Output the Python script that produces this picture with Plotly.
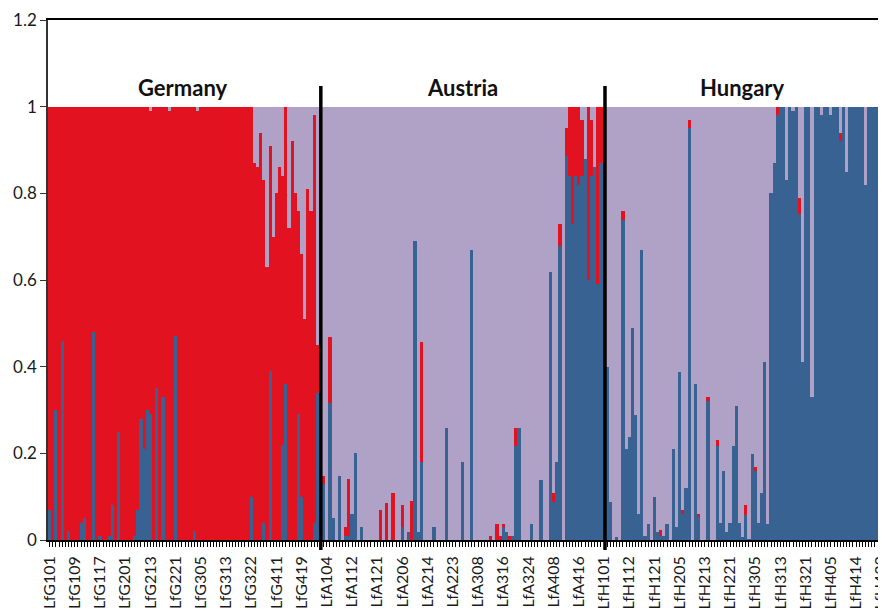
import plotly.graph_objects as go

# ---------------- data (STRUCTURE-like membership proportions) ----------------
germany_blue = [
    .07, 0, .30, 0, .46, 0, .02, 0, 0, 0,
    .04, .05, 0, 0, .48, 0, .01, 0, 0, .01,
    .08, 0, .25, 0, 0, 0, 0, .01, .07, .28,
    .21, .30, .29, 0, .35, 0, .33, 0, 0, 0,
    .47, 0, 0, 0, 0, 0, .02, 0, 0, 0,
    0, 0, 0, 0, 0, 0, 0, 0, 0, 0,
    0, 0, 0, 0, .10, 0, 0, 0, .04, 0,
    .39, 0, 0, 0, .22, .36, 0, 0, 0, .29,
    .10, 0, 0, 0, .04, .34]
germany_red = [
    .93, 1, .70, 1, .54, 1, .98, 1, 1, 1,
    .96, .95, 1, 1, .52, 1, .99, 1, 1, .99,
    .92, 1, .75, 1, 1, 1, 1, .99, .93, .72,
    .79, .70, .70, 1, .65, 1, .67, 1, .99, 1,
    .53, 1, 1, 1, 1, 1, .98, .99, 1, 1,
    1, 1, 1, 1, 1, 1, 1, 1, 1, 1,
    1, 1, 1, 1, .90, .87, .86, .94, .79, .63,
    .52, .70, .80, .86, .62, .64, .72, .92, .80, .47,
    .56, .51, .81, .76, .94, .11]
germany_purple = [
    0, 0, 0, 0, 0, 0, 0, 0, 0, 0,
    0, 0, 0, 0, 0, 0, 0, 0, 0, 0,
    0, 0, 0, 0, 0, 0, 0, 0, 0, 0,
    0, 0, .01, 0, 0, 0, 0, 0, .01, 0,
    0, 0, 0, 0, 0, 0, 0, .01, 0, 0,
    0, 0, 0, 0, 0, 0, 0, 0, 0, 0,
    0, 0, 0, 0, 0, .13, .14, .06, .17, .37,
    .09, .30, .20, .14, .16, 0, .28, .08, .20, .24,
    .34, .49, .19, .24, .02, .55]

austria_blue = [
    0, .13, 0, .317, .05, 0, .148, 0, .01, .01,
    .06, .20, 0, .03, 0, 0, 0, 0, 0, 0,
    0, 0, 0, 0, 0, 0, .03, 0, .018, 0,
    .689, .018, .18, 0, 0, 0, .03, 0, 0, 0,
    .258, 0, 0, 0, 0, .18, 0, 0, .669, 0,
    0, 0, 0, 0, 0, 0, 0, 0, .03, .018,
    0, .01, .218, .258, 0, 0, 0, .038, 0, 0,
    .138, 0, 0, .619, .087, .18, .679, 0, .886, .84,
    .73, .84, .82, .84, .88, .60, .84, .86, .59, .87,
    .87]
austria_red = [
    0, .018, 0, .152, 0, 0, 0, 0, .02, .13,
    0, 0, 0, 0, 0, 0, 0, 0, 0, .07,
    0, .085, 0, .108, 0, 0, .05, 0, 0, .09,
    0, 0, .278, 0, 0, 0, 0, 0, 0, 0,
    0, 0, 0, 0, 0, 0, 0, 0, 0, 0,
    0, 0, 0, 0, .01, 0, .038, .01, .008, 0,
    .01, 0, .04, 0, 0, 0, 0, 0, 0, 0,
    0, 0, 0, 0, .021, 0, .05, 0, .064, .16,
    .27, .16, .18, .13, 0, .40, .13, 0, .41, .13,
    .13]
austria_purple = [
    1, .852, 1, .531, .95, 1, .852, 1, .97, .86,
    .94, .80, 1, .97, 1, 1, 1, 1, 1, .93,
    1, .915, 1, .892, 1, 1, .92, 1, .982, .91,
    .311, .982, .542, 1, 1, 1, .97, 1, 1, 1,
    .742, 1, 1, 1, 1, .82, 1, 1, .331, 1,
    1, 1, 1, 1, .99, 1, .962, .99, .962, .982,
    .99, .99, .742, .742, 1, 1, 1, .962, 1, 1,
    .862, 1, 1, .381, .892, .82, .271, 1, .05, 0,
    0, 0, 0, .03, .12, 0, .03, .14, 0, 0,
    0]

hungary_blue = [
    .40, .088, 0, .008, 0, .738, .21, .238, .49, .289,
    .06, .669, .01, .038, 0, .10, .018, .01, .01, .038,
    0, .21, .03, .388, .06, .12, .95, 0, .36, .054,
    0, 0, .32, 0, 0, .218, .04, .16, .018, .04,
    .218, .31, .04, .008, .058, .002, .198, .16, .04, .108,
    .41, .038, .80, .871, .98, 1, 1, .83, 1, .99,
    1, .752, .41, 1, 1, .33, 1, 1, .98, 1,
    1, .98, 1, 1, .92, 1, .85, 1, 1, 1,
    1, 1, .82, 1, 1, 1, 1, .89, .89]
hungary_red = [
    0, 0, 0, 0, 0, .021, 0, 0, 0, 0,
    0, 0, 0, 0, 0, 0, 0, .012, 0, 0,
    0, 0, 0, 0, .01, 0, .02, 0, 0, .006,
    0, 0, .01, 0, 0, .012, 0, 0, 0, 0,
    0, 0, 0, 0, .022, 0, 0, .009, 0, 0,
    0, 0, 0, 0, .02, 0, 0, 0, 0, 0,
    0, .038, 0, 0, 0, 0, 0, 0, 0, 0,
    0, 0, 0, 0, .02, 0, 0, 0, 0, 0,
    0, 0, 0, 0, 0, 0, 0, 0, 0]
hungary_purple = [
    .60, .912, 1, .992, 1, .241, .79, .762, .51, .711,
    .94, .331, .99, .962, 1, .90, .982, .978, .99, .962,
    1, .79, .97, .612, .93, .88, .03, 1, .64, .94,
    1, 1, .67, 1, 1, .77, .96, .84, .982, .96,
    .782, .69, .96, .992, .92, .998, .802, .831, .96, .892,
    .59, .962, .20, .129, 0, 0, 0, .17, 0, .01,
    0, .21, .59, 0, 0, .67, 0, 0, .02, 0,
    0, .02, 0, 0, .06, 0, .15, 0, 0, 0,
    0, 0, .18, 0, 0, 0, 0, .11, .11]

tick_labels = [
    "LfG101", "LfG109", "LfG117", "LfG201", "LfG213", "LfG221", "LfG305",
    "LfG313", "LfG322", "LfG411", "LfG419",
    "LfA104", "LfA112", "LfA121", "LfA206", "LfA214", "LfA223", "LfA308",
    "LfA316", "LfA324", "LfA408", "LfA416",
    "LfH101", "LfH112", "LfH121", "LfH205", "LfH213", "LfH221", "LfH305",
    "LfH313", "LfH321", "LfH405", "LfH414", "LfH422"]
label_every = 8

countries = ["Germany", "Austria", "Hungary"]

# ---------------- assemble ----------------
blue = germany_blue + austria_blue + hungary_blue
red = germany_red + austria_red + hungary_red
purple = germany_purple + austria_purple + hungary_purple
n = len(blue)
xs = list(range(n))

ticktext = []
k = 0
for i in xs:
    if i % label_every == 0 and k < len(tick_labels):
        ticktext.append(tick_labels[k])
        k += 1
    else:
        ticktext.append("")

C_BLUE = "#386291"
C_RED = "#E31221"
C_PURPLE = "#B0A1C7"

fig = go.Figure()
for vals, col, name in [(blue, C_BLUE, "K1"), (red, C_RED, "K2"), (purple, C_PURPLE, "K3")]:
    fig.add_trace(go.Bar(x=xs, y=vals, name=name, marker=dict(color=col, line=dict(width=0))))

n_g = len(germany_blue)
n_a = len(austria_blue)
n_h = len(hungary_blue)
centers = [n_g / 2 - 0.8, n_g + n_a / 2 - 0.5, n_g + n_a + n_h / 2 - 1.5]
# divider positions (between populations)
dividers = [n_g + 0.1, n_g + n_a - 0.7]

shapes = [dict(type="line", xref="x", yref="paper", x0=d, x1=d, y0=-0.019, y1=0.873,
               line=dict(color="black", width=3.5)) for d in dividers]
annotations = [dict(x=c, y=1.045, xref="x", yref="y", text="<b>%s</b>" % t, showarrow=False,
                    font=dict(family="Lato", size=22, color="#111111"))
               for c, t in zip(centers, countries)]

# the page body adds an 8px offset, so the figure is sized to fill the rest of the window
fig.update_layout(
    width=878, height=604,
    margin=dict(l=40, r=0, t=12, b=72, autoexpand=False),
    barmode="stack", bargap=0,
    showlegend=False,
    plot_bgcolor="white", paper_bgcolor="white",
    shapes=shapes, annotations=annotations,
    font=dict(family="Lato", color="#1a1a1a"),
)
fig.update_xaxes(
    range=[-0.5, n - 0.5], tickmode="array", tickvals=xs, ticktext=ticktext,
    tickangle=-90, ticks="outside", ticklen=5, tickwidth=1, tickcolor="black",
    tickfont=dict(family="Lato", size=16, color="#1a1a1a"),
    ticklabeloverflow="allow", ticklabelstandoff=3,
    showline=True, linecolor="black", linewidth=1.5, mirror=True,
    showgrid=False, zeroline=False, automargin=False,
)
fig.update_yaxes(
    range=[0, 1.2], tickmode="array", tickvals=[0, 0.2, 0.4, 0.6, 0.8, 1.0, 1.2],
    ticktext=["0", "0.2", "0.4", "0.6", "0.8", "1", "1.2"],
    ticks="outside", ticklen=6, tickcolor="#333333",
    tickfont=dict(family="Lato", size=17, color="#1a1a1a"),
    showline=True, linecolor="#333333", linewidth=1.5,
    showgrid=False, zeroline=False, automargin=False,
)

fig.write_html("out.html")
